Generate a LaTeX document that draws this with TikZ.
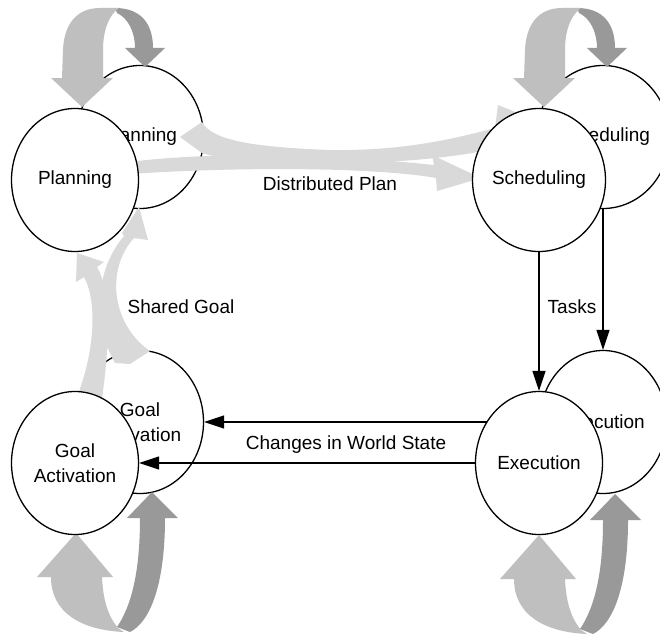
\documentclass[tikz,border=0pt]{standalone}
\usepackage{fontspec}
\setmainfont{Liberation Sans}
\usetikzlibrary{shapes.geometric,arrows.meta}
\definecolor{flowgray}{gray}{0.85}
\definecolor{looplight}{gray}{0.75}
\definecolor{loopdark}{gray}{0.6}
\begin{document}
\begin{tikzpicture}[x=1pt,y=-1pt,
  state/.style={ellipse,draw=black,line width=1.3pt,fill=white,minimum width=127pt,minimum height=143pt,inner sep=0pt,align=center,font=\fontsize{19}{25}\selectfont},
  flow/.style={fill=flowgray},
  loopl/.style={fill=looplight},
  loopd/.style={fill=loopdark},
  conn/.style={line width=1.2pt,-{Triangle[length=20pt,width=13pt]}},
  lbl/.style={font=\fontsize{19}{25}\selectfont,inner sep=0pt}]
\useasboundingbox (0,0) rectangle (660,634);
\fill[white] (0,0) rectangle (660,634);
% back circles
\node[state] (plb) at (140,137) {Planning};
\node[state] (scb) at (603,137) {Scheduling};
\node[state] (gab) at (140,422) {Goal\\Activation};
\node[state] (exb) at (603,422) {Execution};
% back connectors
\draw[conn] (exb.west) -- (gab.east);
\draw[conn] (scb.south) -- (exb.north);
% back flow arrows
\fill[flow] (180,137) -- (202,122) .. controls (212,140) and (250,147) .. (330,150)
  .. controls (400,151) and (450,140) .. (495,128) -- (498,105) -- (560,130) -- (505,168) -- (500,148)
  .. controls (450,158) and (400,163) .. (330,163) .. controls (260,163) and (215,158) .. (202,153) -- cycle;
\fill[flow] (107,347) -- (115,363) -- (130,364) -- (150,351)
  .. controls (112,325) and (105,270) .. (134,238) -- (148,240) -- (139,207) -- (122,233) -- (124,236)
  .. controls (95,270) and (95,320) .. (107,347) -- cycle;
% self loops
\fill[loopd] (115,8) .. controls (142,8) and (153,25) .. (153,48) -- (165,48) -- (145,67) -- (125,48) -- (135,48) .. controls (135,32) and (128,18) .. (117,13) -- cycle;
\fill[loopl] (62,78) -- (51,78) -- (82,107) -- (113,78) -- (103,78) -- (103,50) .. controls (103,30) and (109,15) .. (119,8) -- (100,8) .. controls (76,8) and (64,25) .. (63,50) -- cycle;
\begin{scope}[shift={(462,0)}]
\fill[loopd] (115,8) .. controls (142,8) and (153,25) .. (153,48) -- (165,48) -- (145,67) -- (125,48) -- (135,48) .. controls (135,32) and (128,18) .. (117,13) -- cycle;
\fill[loopl] (62,78) -- (51,78) -- (82,107) -- (113,78) -- (103,78) -- (103,50) .. controls (103,30) and (109,15) .. (119,8) -- (100,8) .. controls (76,8) and (64,25) .. (63,50) -- cycle;
\end{scope}
\fill[loopd] (165,518) .. controls (165,585) and (150,622) .. (130,632) -- (117,627) .. controls (132,605) and (140,570) .. (140,518) -- (127,518) -- (152,492) -- (178,518) -- cycle;
\fill[loopl] (51,577) -- (37,577) -- (76,533) -- (113,577) -- (102,577) .. controls (103,600) and (108,616) .. (118,628) -- (124,632) .. controls (80,630) and (51,612) .. (51,577) -- cycle;
\begin{scope}[shift={(463,2)}]
\fill[loopd] (165,518) .. controls (165,585) and (150,622) .. (130,632) -- (117,627) .. controls (132,605) and (140,570) .. (140,518) -- (127,518) -- (152,492) -- (178,518) -- cycle;
\fill[loopl] (51,577) -- (37,577) -- (76,533) -- (113,577) -- (102,577) .. controls (103,600) and (108,616) .. (118,628) -- (124,632) .. controls (80,630) and (51,612) .. (51,577) -- cycle;
\end{scope}
% front flow arrows
\fill[flow] (130,162) .. controls (190,154) and (300,151) .. (434,165) -- (432,155) -- (481,178) -- (437,191) -- (436,178)
  .. controls (380,168) and (250,166) .. (130,174) -- cycle;
\fill[flow] (76,282) -- (77,253) -- (104,262) -- (97,267) .. controls (108,285) and (112,330) .. (102,398) -- (78,394)
  .. controls (95,350) and (97,300) .. (84,277) -- cycle;
% front circles
\node[state] (plf) at (75,180) {Planning};
\node[state] (scf) at (539,180) {Scheduling};
\node[state] (gaf) at (75,463) {Goal\\Activation};
\node[state] (exf) at (539,463) {Execution};
% front connectors
\draw[conn] (exf.west) -- (gaf.east);
\draw[conn] (scf.south) -- (exf.north);
% labels
\node[lbl] (dp) at (330,184) {Distributed Plan};
\node[lbl] (sg) at (181,307) {Shared Goal};
\node[lbl] (tk) at (572,307) {Tasks};
\node[lbl] (cw) at (346,445) {Changes in World State};
\end{tikzpicture}
\end{document}
